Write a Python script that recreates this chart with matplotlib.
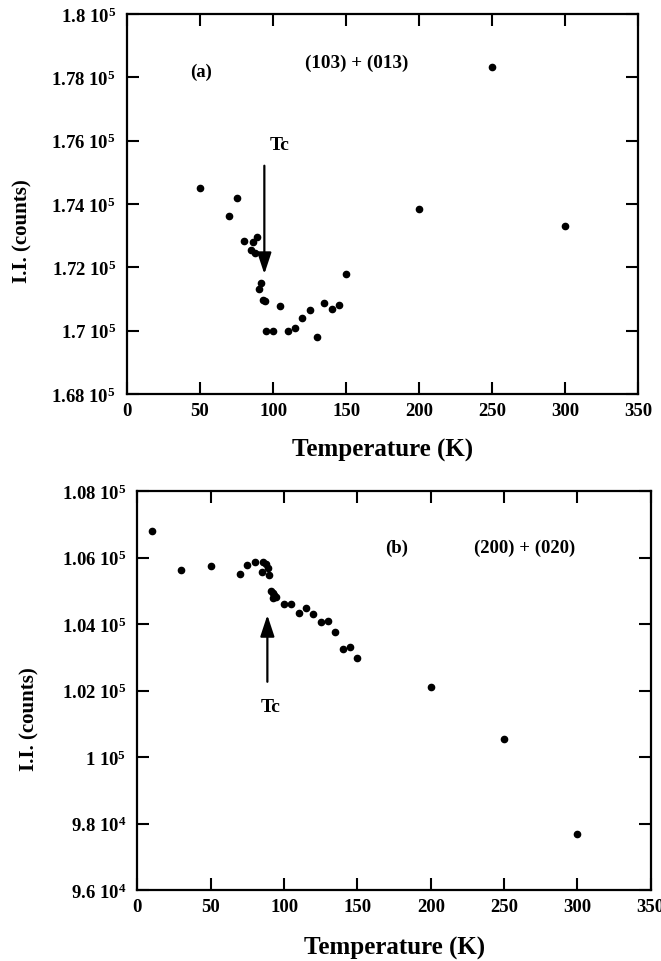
import matplotlib
matplotlib.use("Agg")
import matplotlib.pyplot as plt

plt.rcParams['font.family'] = ['Liberation Serif', 'DejaVu Serif']
plt.rcParams['font.weight'] = 'bold'
plt.rcParams['mathtext.fontset'] = 'custom'
plt.rcParams['mathtext.rm'] = 'Liberation Serif:bold'
plt.rcParams['mathtext.it'] = 'Liberation Serif:bold:italic'
plt.rcParams['mathtext.bf'] = 'Liberation Serif:bold'

# ---------------- data ----------------
# (a) (103) + (013)
a_temp = [50, 75, 70, 80, 86, 89, 85, 87.6, 91.7, 90.1, 93, 94.2, 105, 95, 100,
          110, 115, 120, 125, 130, 135, 140, 145, 150, 200, 250, 300]
a_ii = [174495, 174189, 173632, 172832, 172789, 172958, 172547, 172463, 171495,
        171305, 170968, 170937, 170789, 169995, 169995, 169995, 170074, 170410,
        170653, 169800, 170874, 170674, 170800, 171779, 173830, 178340, 173305]

# (b) (200) + (020)
b_temp = [10, 30, 50, 70, 75, 80, 85, 85.7, 87.5, 89.1, 90, 90.9, 92.3, 93.2,
          92.3, 94.5, 100, 105, 110, 115, 120, 125, 130, 135, 140, 145, 150,
          200, 250, 300]
b_ii = [106820, 105640, 105760, 105510, 105770, 105860, 105560, 105870, 105820,
        105700, 105470, 105000, 104950, 104870, 104790, 104830, 104610, 104610,
        104330, 104480, 104320, 104080, 104100, 103760, 103240, 103320, 102970,
        102118, 100544, 97685]

x_ticks = [0, 50, 100, 150, 200, 250, 300, 350]
a_yticks = [168000, 170000, 172000, 174000, 176000, 178000, 180000]
a_ylabels = [r"1.68 10$^5$", r"1.7 10$^5$", r"1.72 10$^5$", r"1.74 10$^5$",
             r"1.76 10$^5$", r"1.78 10$^5$", r"1.8 10$^5$"]
b_yticks = [96000, 98000, 100000, 102000, 104000, 106000, 108000]
b_ylabels = [r"9.6 10$^4$", r"9.8 10$^4$", r"1 10$^5$", r"1.02 10$^5$",
             r"1.04 10$^5$", r"1.06 10$^5$", r"1.08 10$^5$"]

# annotation positions (data coords)
a_arrow_x, a_arrow_tail, a_arrow_tip = 94, 175209, 171789
a_tc_pos = (104.7, 175894)
a_lab_pos = (50.6, 178199)
a_refl_pos = (157.4, 178483)
b_arrow_x, b_arrow_tail, b_arrow_tip = 88.6, 102268, 104276
b_tc_pos = (91.1, 101528)
b_lab_pos = (176.4, 106313)
b_refl_pos = (263.9, 106313)

# ---------------- figure ----------------
fig = plt.figure(figsize=(6.61, 9.62), dpi=100)
ax1 = fig.add_axes([0.1921, 0.5894, 0.7738, 0.3950])
ax2 = fig.add_axes([0.2079, 0.0738, 0.7766, 0.4144])

arrow_style = dict(arrowstyle='-|>,head_length=1.3,head_width=0.43',
                   mutation_scale=10, lw=1.6, color='black',
                   shrinkA=0, shrinkB=0)


def style(ax, yticks, ylabels, ylim):
    ax.set_xlim(0, 350)
    ax.set_ylim(*ylim)
    ax.set_xticks(x_ticks)
    ax.set_xticklabels([str(t) for t in x_ticks])
    ax.set_yticks(yticks)
    ax.set_yticklabels(ylabels)
    for s in ax.spines.values():
        s.set_linewidth(1.6)
    ax.tick_params(axis='both', which='major', direction='in', length=8.5,
                   width=1.5, top=True, right=True, labelsize=13.5)
    ax.tick_params(axis='x', pad=6)
    ax.tick_params(axis='y', pad=8)
    for lab in ax.get_xticklabels() + ax.get_yticklabels():
        lab.set_fontweight('bold')
    ax.set_xlabel("Temperature (K)", fontsize=18, fontweight='bold')
    ax.set_ylabel("I.I. (counts)", fontsize=15, fontweight='bold')


style(ax1, a_yticks, a_ylabels, (168000, 180000))
ax1.plot(a_temp, a_ii, 'o', color='black', ms=4.5, mec='black')
ax1.annotate('', xy=(a_arrow_x, a_arrow_tip), xytext=(a_arrow_x, a_arrow_tail),
             arrowprops=arrow_style)
ax1.text(*a_tc_pos, "Tc", ha='center', va='center', fontsize=14, fontweight='bold')
ax1.text(*a_lab_pos, "(a)", ha='center', va='center', fontsize=13.5, fontweight='bold')
ax1.text(*a_refl_pos, "(103) + (013)", ha='center', va='center', fontsize=13.8,
         fontweight='bold')
ax1.yaxis.set_label_coords(-0.184, 0.43)
ax1.xaxis.set_label_coords(0.5, -0.115)

style(ax2, b_yticks, b_ylabels, (96000, 108000))
ax2.plot(b_temp, b_ii, 'o', color='black', ms=4.5, mec='black')
ax2.annotate('', xy=(b_arrow_x, b_arrow_tip), xytext=(b_arrow_x, b_arrow_tail),
             arrowprops=arrow_style)
ax2.text(*b_tc_pos, "Tc", ha='center', va='center', fontsize=14, fontweight='bold')
ax2.text(*b_lab_pos, "(b)", ha='center', va='center', fontsize=13.5, fontweight='bold')
ax2.text(*b_refl_pos, "(200) + (020)", ha='center', va='center', fontsize=13.5,
         fontweight='bold')
ax2.yaxis.set_label_coords(-0.19, 0.43)
ax2.xaxis.set_label_coords(0.5, -0.115)

fig.savefig("out.png", dpi=100)
